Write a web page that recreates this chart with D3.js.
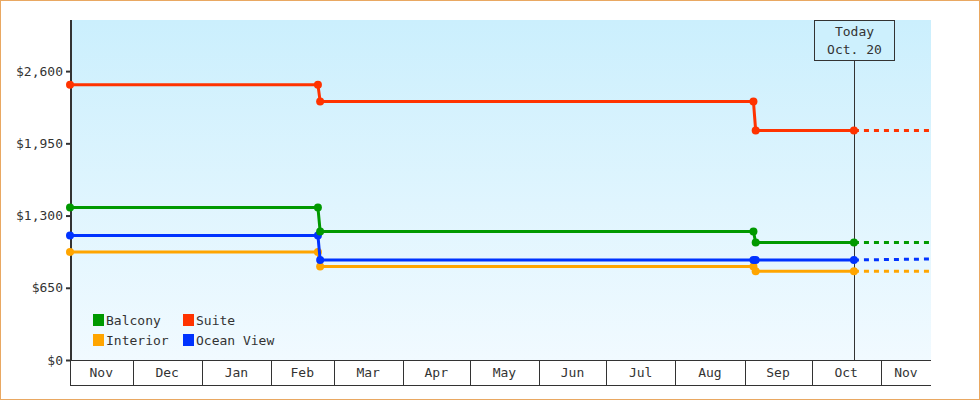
<!DOCTYPE html>
<html>
<head>
<meta charset="utf-8">
<script src="https://cdn.jsdelivr.net/npm/d3@7"></script>
<style>
  html, body { margin: 0; padding: 0; background: #fff; }
  svg { display: block; }
  text { font-family: "DejaVu Sans Mono", "Liberation Mono", monospace; font-size: 13px; fill: #333; }
</style>
</head>
<body>
<svg id="chart" width="980" height="400"></svg>
<script>
// Cabin price history, one series per cabin class
const seriesNames = ["Interior", "Ocean View", "Balcony", "Suite"];
const seriesColors = ["#ffa500", "#0033ff", "#009900", "#ff3300"];
const priceDates = ["2022-11-03", "2023-02-22", "2023-02-23", "2023-09-05", "2023-09-06", "2023-10-20"];
const interiorPrices = [972, 972, 842, 842, 798, 798];
const oceanViewPrices = [1121, 1121, 900, 900, 900, 900];
const balconyPrices = [1373, 1373, 1157, 1157, 1058, 1058];
const suitePrices = [2478, 2478, 2327, 2327, 2066, 2066];
// projected price at the end of the window
const projectedPrices = [798, 909, 1058, 2066];
const todayDate = "2023-10-20";
const todayLabel = ["Today", "Oct. 20"];
const windowStart = "2022-11-03";
const windowEnd = "2023-11-23T12:00";
const yTicks = [0, 650, 1300, 1950, 2600];
const yMax = 3060;
const legendOrder = ["Balcony", "Suite", "Interior", "Ocean View"];

const allPrices = [interiorPrices, oceanViewPrices, balconyPrices, suitePrices];
const parse = s => new Date(s);

const svg = d3.select("#chart");
const W = 980, H = 400;
const plot = { left: 70, right: 931, top: 20, bottom: 360 };
const axisH = 25;

// outer frame
svg.append("rect").attr("x", 0.5).attr("y", 0.5).attr("width", W - 1).attr("height", H - 1)
  .attr("fill", "#fff").attr("stroke", "#e9a862").attr("stroke-width", 1);

// plot background gradient
const defs = svg.append("defs");
const grad = defs.append("linearGradient").attr("id", "bg").attr("x1", 0).attr("y1", 0).attr("x2", 0).attr("y2", 1);
grad.append("stop").attr("offset", "0%").attr("stop-color", "#cbeffd");
grad.append("stop").attr("offset", "100%").attr("stop-color", "#f1faff");
svg.append("rect").attr("x", plot.left).attr("y", plot.top)
  .attr("width", plot.right - plot.left).attr("height", plot.bottom - plot.top)
  .attr("fill", "url(#bg)");

const x = d3.scaleTime().domain([parse(windowStart), parse(windowEnd)]).range([plot.left, plot.right]);
const y = d3.scaleLinear().domain([0, yMax]).range([plot.bottom, plot.top]);

// month cells along the bottom
const monthStarts = d3.timeMonth.range(d3.timeMonth.ceil(x.domain()[0]), x.domain()[1]);
const xAxis = svg.append("g").attr("transform", `translate(0,${plot.bottom})`)
  .call(d3.axisBottom(x).tickValues(monthStarts).tickSizeInner(axisH).tickSizeOuter(0).tickFormat(""));
xAxis.select(".domain").remove();
xAxis.selectAll(".tick line").attr("stroke", "#333").attr("shape-rendering", "crispEdges");
svg.append("line").attr("x1", plot.left).attr("x2", plot.right).attr("y1", plot.bottom + 0.5).attr("y2", plot.bottom + 0.5)
  .attr("stroke", "#333");
svg.append("line").attr("x1", plot.left).attr("x2", plot.right).attr("y1", plot.bottom + axisH + 0.5).attr("y2", plot.bottom + axisH + 0.5)
  .attr("stroke", "#333");
svg.append("line").attr("x1", plot.left + 0.5).attr("x2", plot.left + 0.5).attr("y1", plot.bottom).attr("y2", plot.bottom + axisH)
  .attr("stroke", "#333");
const cellBounds = [x.domain()[0], ...monthStarts, x.domain()[1]];
const cells = d3.pairs(cellBounds);
svg.append("g").selectAll("text").data(cells).join("text")
  .attr("x", d => (x(d[0]) + x(d[1])) / 2)
  .attr("y", plot.bottom + 17)
  .attr("text-anchor", "middle")
  .text(d => d3.timeFormat("%b")(d[0]));

// y axis
const yAxis = svg.append("g").attr("transform", `translate(${plot.left + 1},0)`)
  .call(d3.axisLeft(y).tickValues(yTicks).tickSizeInner(5).tickSizeOuter(0).tickPadding(3)
    .tickFormat(d => "$" + d3.format(",")(d)));
yAxis.select(".domain").attr("stroke", "#333").attr("stroke-width", 2);
yAxis.selectAll(".tick line").attr("stroke", "#333").attr("stroke-width", 2);
yAxis.selectAll(".tick text").attr("fill", "#333")
  .style("font-family", "'DejaVu Sans Mono', monospace").style("font-size", "13px");
yAxis.select(".domain").attr("d", `M0,${plot.top}V${plot.bottom}`);

// today marker
const tx = Math.round(x(parse(todayDate))) + 0.5;
svg.append("line").attr("x1", tx).attr("x2", tx).attr("y1", plot.top + 41).attr("y2", plot.bottom)
  .attr("stroke", "#333").attr("stroke-width", 1);
svg.append("rect").attr("x", tx - 40).attr("y", plot.top + 0.5).attr("width", 80).attr("height", 40)
  .attr("fill", "#cdf0fd").attr("stroke", "#333").attr("stroke-width", 1);
svg.append("g").selectAll("text").data(todayLabel).join("text")
  .attr("x", tx).attr("y", (d, i) => plot.top + 16 + i * 18)
  .attr("text-anchor", "middle").text(d => d);

// price lines
const line = d3.line().x(d => x(d.date)).y(d => y(d.price));
seriesNames.forEach((name, i) => {
  const pts = priceDates.map((d, j) => ({ date: parse(d), price: allPrices[i][j] }));
  const g = svg.append("g");
  const last = pts[pts.length - 1];
  const proj = [last, { date: x.domain()[1], price: projectedPrices[i] }];
  g.append("path").datum(proj).attr("d", line).attr("fill", "none")
    .attr("stroke", seriesColors[i]).attr("stroke-width", 3)
    .attr("stroke-dasharray", "5,5").attr("stroke-dashoffset", -10);
  g.append("path").datum(pts).attr("d", line).attr("fill", "none")
    .attr("stroke", seriesColors[i]).attr("stroke-width", 3);
  g.selectAll("circle").data(pts).join("circle")
    .attr("cx", d => x(d.date)).attr("cy", d => y(d.price)).attr("r", 4)
    .attr("fill", seriesColors[i]);
});

// legend
const legend = svg.append("g");
legendOrder.forEach((name, k) => {
  const i = seriesNames.indexOf(name);
  const lx = 93 + (k % 2) * 90;
  const ly = 314 + Math.floor(k / 2) * 20;
  legend.append("rect").attr("x", lx).attr("y", ly).attr("width", 11).attr("height", 12)
    .attr("fill", seriesColors[i]);
  legend.append("text").attr("x", lx + 13).attr("y", ly + 11).text(name);
});
</script>
</body>
</html>
